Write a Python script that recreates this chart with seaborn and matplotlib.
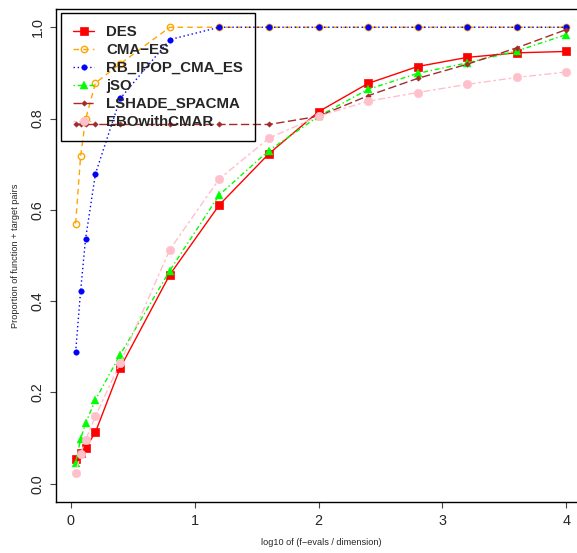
import matplotlib
matplotlib.use("Agg")
import matplotlib.pyplot as plt
import seaborn as sns

# ---- data ----
x_vals = [0.04, 0.08, 0.12, 0.2, 0.4, 0.8, 1.2, 1.6, 2.0, 2.4, 2.8, 3.2, 3.6, 4.0]
des = [0.054, 0.067, 0.078, 0.113, 0.254, 0.458, 0.611, 0.723, 0.815, 0.877, 0.914, 0.934, 0.944, 0.947]
cma_es = [0.570, 0.717, 0.798, 0.878, 0.920, 1.0, 1.0, 1.0, 1.0, 1.0, 1.0, 1.0, 1.0, 1.0]
rb_ipop = [0.288, 0.422, 0.536, 0.679, 0.844, 0.973, 1.0, 1.0, 1.0, 1.0, 1.0, 1.0, 1.0, 1.0]
jso = [0.045, 0.098, 0.132, 0.184, 0.283, 0.467, 0.633, 0.730, 0.805, 0.864, 0.899, 0.922, 0.948, 0.984]
lshade = [0.787, 0.787, 0.787, 0.787, 0.787, 0.787, 0.787, 0.787, 0.805, 0.850, 0.888, 0.919, 0.955, 0.995]
ebo = [0.023, 0.065, 0.096, 0.148, 0.265, 0.513, 0.668, 0.757, 0.805, 0.838, 0.857, 0.875, 0.890, 0.902]

labels = ["DES", "CMA\u2212ES", "RB_IPOP_CMA_ES", "jSO", "LSHADE_SPACMA", "EBOwithCMAR"]
x_ticks = [0, 1, 2, 3, 4]
y_ticks = [0.0, 0.2, 0.4, 0.6, 0.8, 1.0]
y_ticklabels = ["0.0", "0.2", "0.4", "0.6", "0.8", "1.0"]
x_label = "log10 of (f\u2212evals / dimension)"
y_label = "Proportion of function + target pairs"

sns.set_style("ticks")
plt.rcParams["font.family"] = ["Liberation Sans", "DejaVu Sans"]

W, H = 577, 553
fig = plt.figure(figsize=(W / 100, H / 100), dpi=100)
left, right, top, bottom = 56, 586, 9, 502
ax = fig.add_axes([left / W, (H - bottom) / H, (right - left) / W, (bottom - top) / H])

styles = [
    dict(color="#FF0000", linestyle="-", marker="s", markersize=5.4,
         markerfacecolor="#FF0000", markeredgecolor="#FF0000", markeredgewidth=0.5),
    dict(color="#FFA500", linestyle=(0, (4, 3)), marker="o", markersize=4.6,
         markerfacecolor="none", markeredgecolor="#FFA500", markeredgewidth=1.0),
    dict(color="#0000FF", linestyle=(0, (1, 2)), marker="o", markersize=4.0,
         markerfacecolor="#0000FF", markeredgecolor="#0000FF", markeredgewidth=0.3),
    dict(color="#00FF00", linestyle=(0, (1, 2, 3.5, 2)), marker="^", markersize=5.8,
         markerfacecolor="#00FF00", markeredgecolor="#00FF00", markeredgewidth=0.3),
    dict(color="#A52A2A", linestyle=(0, (6, 2.5)), marker="D", markersize=2.8,
         markerfacecolor="#A52A2A", markeredgecolor="#A52A2A", markeredgewidth=0.3),
    dict(color="#FFC0CB", linestyle=(0, (2, 2, 5, 2)), marker="o", markersize=6.2,
         markerfacecolor="#FFC0CB", markeredgecolor="#FFC0CB", markeredgewidth=0.3),
]
series = [des, cma_es, rb_ipop, jso, lshade, ebo]

for lab, ys, st in zip(labels, series, styles):
    sns.lineplot(x=x_vals, y=ys, ax=ax, label=lab, linewidth=1.0, sort=False, **st)

ax.set_xlim(-0.1184, 4.1584)
ax.set_ylim(-0.04, 1.04)
ax.set_xticks(x_ticks)
ax.set_xticklabels([str(t) for t in x_ticks], fontsize=10.4)
ax.set_yticks(y_ticks)
ax.set_yticklabels(y_ticklabels, fontsize=10.4, rotation=90, va="center")
ax.tick_params(axis="both", direction="out", length=4.3, width=0.8, color="#444444")
ax.tick_params(axis="x", pad=4)
ax.tick_params(axis="y", pad=4)
for sp in ax.spines.values():
    sp.set_visible(True)
    sp.set_color("black")
    sp.set_linewidth(1.0)

ax.set_xlabel(x_label, fontsize=6.6)
ax.set_ylabel(y_label, fontsize=6.6)
ax.xaxis.set_label_coords(0.5, (bottom - 538) / (bottom - top))
ax.yaxis.set_label_coords((20 - left) / (right - left), 0.5)

leg = ax.legend(loc="upper left", bbox_to_anchor=(61 / W, 1 - 13.3 / H),
                bbox_transform=fig.transFigure, borderaxespad=0,
                prop={"size": 10.8, "weight": "bold"},
                frameon=True, fancybox=False,
                borderpad=0.78, labelspacing=0.27, handlelength=1.45,
                handletextpad=0.8)
frame = leg.get_frame()
frame.set_alpha(None)
frame.set_facecolor((1, 1, 1, 0))
frame.set_edgecolor((0, 0, 0, 1))
frame.set_linewidth(1.0)

fig.savefig("out.png", dpi=100)
